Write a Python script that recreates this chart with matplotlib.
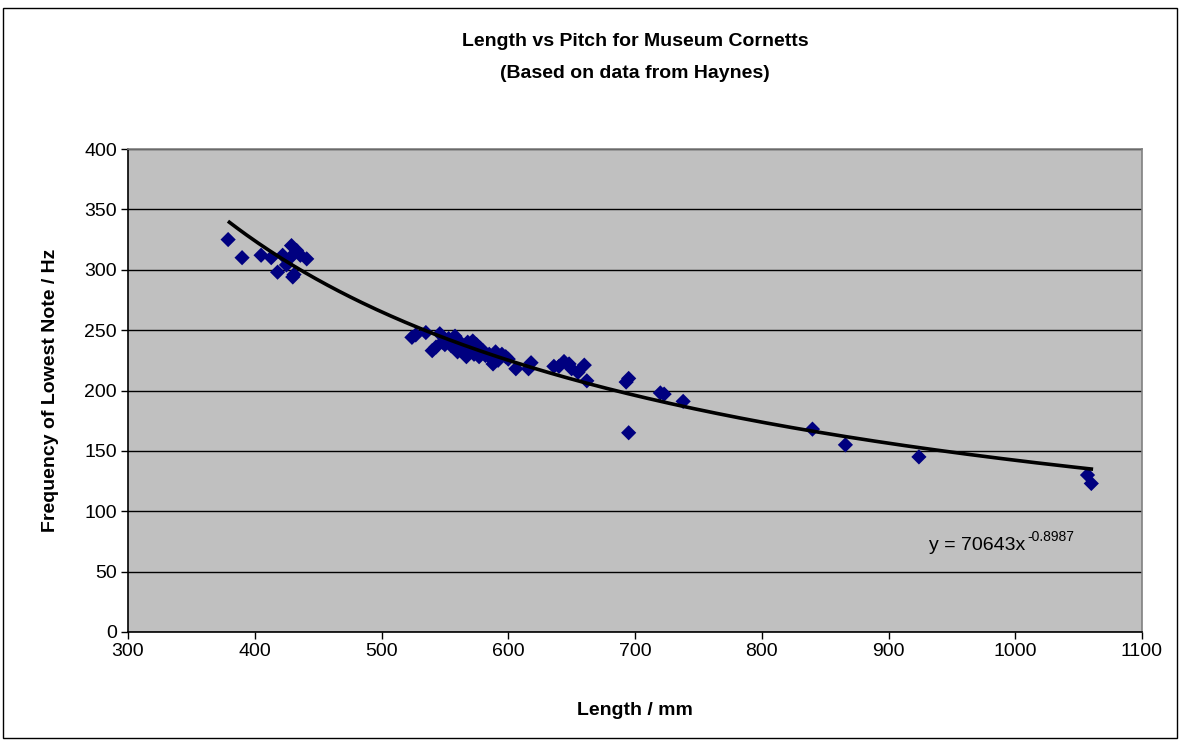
import numpy as np
import matplotlib
matplotlib.use("Agg")
import matplotlib.pyplot as plt
from matplotlib.patches import Rectangle

plt.rcParams['font.family'] = ['Liberation Sans', 'DejaVu Sans']
plt.rcParams['axes.unicode_minus'] = False

length_mm = [379, 390, 405, 413, 418, 422, 425, 428, 429, 430, 431, 433, 436, 441,
             524, 527, 535, 540, 543, 546, 548, 550, 553, 555, 558, 560, 562, 563,
             565, 567, 568, 570, 572, 573, 575, 577, 578, 580, 582, 585, 587, 588,
             590, 592, 595, 598, 600, 606, 616, 618, 636, 640, 644, 648, 650, 655,
             660, 662, 693, 695, 695, 720, 723, 738, 840, 866, 924, 1057, 1060]
freq_hz = [325, 310, 312, 310, 298, 312, 304, 310, 320, 294, 296, 316, 312, 309,
           244, 246, 248, 233, 236, 247, 240, 238, 243, 237, 245, 232, 240, 236,
           233, 228, 240, 236, 241, 230, 238, 228, 235, 233, 229, 230, 226, 222,
           232, 225, 230, 228, 226, 218, 218, 223, 220, 220, 224, 222, 218, 215,
           221, 208, 207, 210, 165, 198, 197, 191, 168, 155, 145, 130, 123]

fit_a = 70643
fit_b = -0.8987
fit_range = [380, 1060]

x_ticks = [300, 400, 500, 600, 700, 800, 900, 1000, 1100]
y_ticks = [0, 50, 100, 150, 200, 250, 300, 350, 400]

W, H = 1187, 747
fig = plt.figure(figsize=(W / 100, H / 100), dpi=100)
fig.patch.set_facecolor('white')

# outer chart border
fig.add_artist(Rectangle((3 / W, 1 - 738 / H), (1177 - 3) / W, (738 - 8) / H,
                         transform=fig.transFigure, fill=False,
                         edgecolor='black', linewidth=1.0))

left, right, top, bottom = 128, 1142, 149, 632
ax = fig.add_axes([left / W, 1 - bottom / H, (right - left) / W, (bottom - top) / H])
ax.set_facecolor('#C0C0C0')
ax.set_xlim(300, 1100)
ax.set_ylim(0, 400)
ax.set_xticks(x_ticks)
ax.set_yticks(y_ticks)
ax.tick_params(direction='out', length=5, width=1, colors='black', labelsize=14, pad=3)
for s in ax.spines.values():
    s.set_color('#808080')
    s.set_linewidth(1.2)
ax.spines['left'].set_color('black')
ax.spines['bottom'].set_color('black')
ax.yaxis.grid(True, color='black', linewidth=1.0)
ax.set_axisbelow(True)

ax.scatter(length_mm, freq_hz, marker='D', s=60, color='#000080', zorder=3,
           edgecolors='none')

xf = np.linspace(fit_range[0], fit_range[1], 300)
ax.plot(xf, fit_a * xf ** fit_b, color='black', linewidth=2.6, zorder=4)

ax.text(932, 72, 'y = 70643x', fontsize=14, ha='left', va='center')
ax.annotate('-0.8987', xy=(932, 72), xytext=(98, 8), textcoords='offset pixels',
            fontsize=10, ha='left', va='center')

ax.set_xlabel('Length / mm', fontsize=14, fontweight='bold', labelpad=30)
ax.set_ylabel('Frequency of Lowest Note / Hz', fontsize=14, fontweight='bold', labelpad=18)

fig.text((left + right) / 2 / W, 1 - 42 / H, 'Length vs Pitch for Museum Cornetts',
         ha='center', va='center', fontsize=14, fontweight='bold')
fig.text((left + right) / 2 / W, 1 - 74 / H, '(Based on data from Haynes)',
         ha='center', va='center', fontsize=14, fontweight='bold')

fig.savefig('out.png', dpi=100)
